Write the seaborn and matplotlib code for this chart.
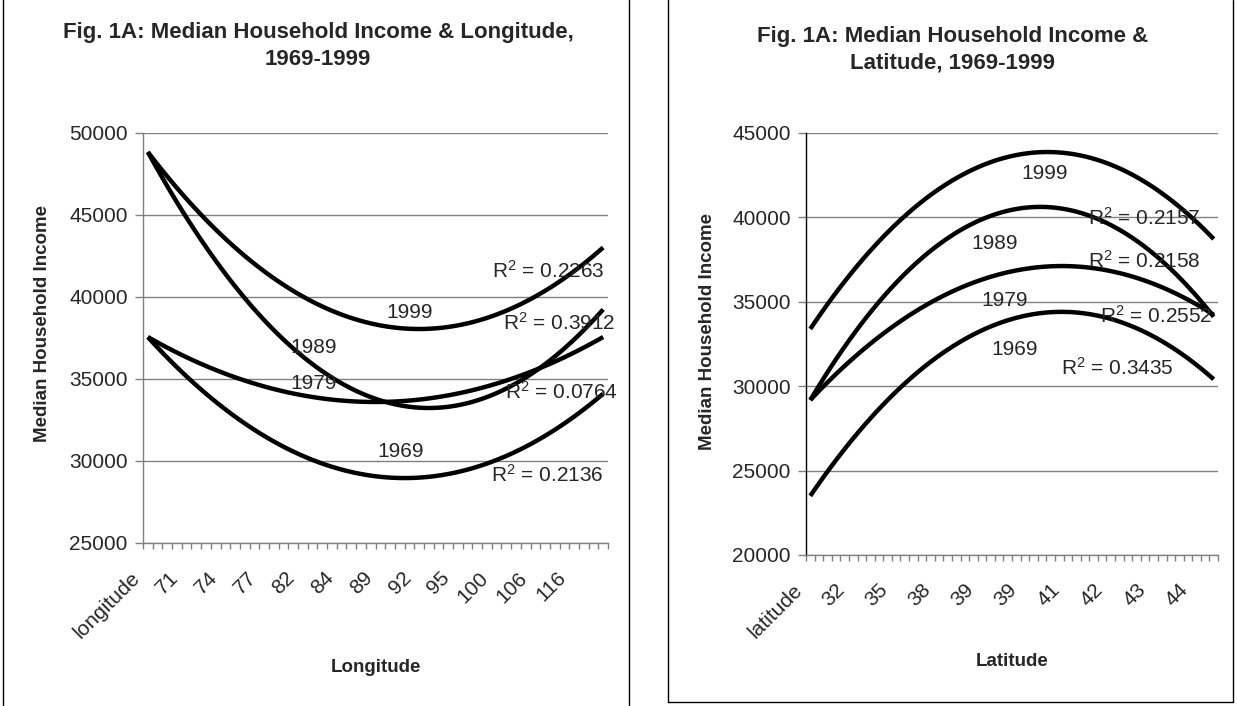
import numpy as np
import pandas as pd
import matplotlib
matplotlib.use("Agg")
import matplotlib.pyplot as plt
import matplotlib.transforms as mtransforms
from matplotlib.lines import Line2D
import seaborn as sns

# ---------------------------------------------------------------- data
N_STATES = 48                      # categories on each x axis
SAMPLE_POS = [0, 8, 16, 24, 32, 40, 47]   # category index of each reading

YEARS = ["1969", "1979", "1989", "1999"]

# quadratic trend of median household income vs. longitude rank
lon_1969 = [37560, 33140, 30310, 29040, 29330, 31190, 34100]
lon_1979 = [37560, 35320, 34000, 33600, 34120, 35550, 37560]
lon_1989 = [48840, 41420, 36370, 33690, 33400, 35480, 39240]
lon_1999 = [48840, 43550, 40030, 38270, 38270, 40030, 43020]
lon_r2 = {"1969": "0.2136", "1979": "0.0764", "1989": "0.3912", "1999": "0.2263"}
lon_tick_labels = ["longitude", "71", "74", "77", "82", "84", "89", "92",
                   "95", "100", "106", "116"]

# quadratic trend of median household income vs. latitude rank
lat_1969 = [23500, 28650, 32160, 34050, 34310, 32940, 30410]
lat_1979 = [29180, 32920, 35480, 36860, 37050, 36060, 34230]
lat_1989 = [29180, 34990, 38760, 40500, 40190, 37850, 34110]
lat_1999 = [33390, 38580, 42020, 43690, 43610, 41770, 38720]
lat_r2 = {"1969": "0.3435", "1979": "0.2552", "1989": "0.2158", "1999": "0.2157"}
lat_tick_labels = ["latitude", "32", "35", "38", "39", "39", "41", "42",
                   "43", "44"]

# ---------------------------------------------------------------- style
sns.set_style("white")
plt.rcParams["font.family"] = ["Liberation Sans", "DejaVu Sans"]
plt.rcParams["mathtext.fontset"] = "custom"
plt.rcParams["mathtext.rm"] = "Liberation Sans"
plt.rcParams["mathtext.it"] = "Liberation Sans"
plt.rcParams["mathtext.bf"] = "Liberation Sans:bold"

W, H = 1237, 706
fig = plt.figure(figsize=(W / 100, H / 100), dpi=100)
fig.patch.set_facecolor("white")

TXT = 15.0      # tick and annotation size
BOLD = 13.5     # axis titles
HEAD = 16.0     # chart titles


def px_axes(x0, y0, x1, y1):
    return fig.add_axes([x0 / W, 1 - y1 / H, (x1 - x0) / W, (y1 - y0) / H])


def draw_panel(ax, series, r2, tick_labels, label_step, ylim, xlabel, title,
               title_xy, ylabel_x, xlabel_xy, label_pos, axis_color):
    frames = []
    for yr, vals in series.items():
        frames.append(pd.DataFrame({"cat": SAMPLE_POS, "income": vals, "year": yr}))
    df = pd.concat(frames, ignore_index=True)
    for yr in YEARS:
        sub = df[df["year"] == yr]
        sns.regplot(data=sub, x="cat", y="income", order=2, ci=None,
                    scatter=False, truncate=True, ax=ax,
                    line_kws={"color": "black", "lw": 3.2,
                              "solid_capstyle": "butt"})

    ax.set_xlim(-0.5, N_STATES - 0.5)
    ax.set_ylim(*ylim)
    ax.set_yticks(np.arange(ylim[0], ylim[1] + 1, 5000))
    ax.yaxis.grid(True, color="#808080", lw=1.0)
    ax.xaxis.grid(False)
    ax.set_axisbelow(True)

    # category boundaries carry the tick marks, labels sit on category centres
    ax.set_xticks(np.arange(-0.5, N_STATES, 1.0))
    ax.set_xticklabels([])
    pos = np.arange(0, N_STATES, label_step)[:len(tick_labels)]
    ax.set_xticks(pos, minor=True)
    ax.set_xticklabels(tick_labels, minor=True, rotation=45, ha="right",
                       va="center", rotation_mode="anchor", fontsize=TXT)
    ax.tick_params(axis="x", which="major", direction="out", length=4,
                   width=1, color="#808080", bottom=True)
    ax.tick_params(axis="x", which="minor", length=0, pad=23, bottom=True)
    ax.tick_params(axis="y", direction="out", length=6, width=1,
                   color="#808080", labelsize=TXT, pad=5, left=True)
    shift = mtransforms.ScaledTranslation(-11 / 100, 0, fig.dpi_scale_trans)
    for lab in ax.get_xticklabels(minor=True):
        lab.set_transform(lab.get_transform() + shift)

    for side in ("top", "right"):
        ax.spines[side].set_visible(False)
    ax.spines["left"].set_color(axis_color)
    ax.spines["bottom"].set_color("#808080")
    for s in ("left", "bottom"):
        ax.spines[s].set_linewidth(1.0)

    ax.set_xlabel("")
    ax.set_ylabel("")
    fig.text(ylabel_x / W, 1 - label_pos["ylabel_y"] / H,
             "Median Household Income", rotation=90, ha="center",
             va="center", fontsize=BOLD, fontweight="bold")
    fig.text(xlabel_xy[0] / W, 1 - xlabel_xy[1] / H, xlabel, ha="center",
             va="center", fontsize=BOLD, fontweight="bold")
    fig.text(title_xy[0] / W, 1 - title_xy[1] / H, title, ha="center",
             va="center", fontsize=HEAD, fontweight="bold", linespacing=1.35)

    for yr in YEARS:
        fx, fy = label_pos[yr]
        ax.text(fx, fy, yr, transform=ax.transAxes, ha="center", va="center",
                fontsize=TXT, clip_on=False)
        fx, fy = label_pos["r2_" + yr]
        ax.text(fx, fy, r"R$^{\mathrm{2}}$ = " + r2[yr], transform=ax.transAxes,
                ha="center", va="center", fontsize=TXT, clip_on=False)


ax1 = px_axes(143, 133, 608, 543)
draw_panel(
    ax1,
    {"1969": lon_1969, "1979": lon_1979, "1989": lon_1989, "1999": lon_1999},
    lon_r2, lon_tick_labels, 4, (25000, 50000), "Longitude",
    "Fig. 1A: Median Household Income & Longitude,\n1969-1999",
    (318, 46), 43, (376, 667),
    {"1999": (0.574, 0.563), "1989": (0.366, 0.478),
     "1979": (0.366, 0.390), "1969": (0.553, 0.222),
     "r2_1999": (0.871, 0.663), "r2_1989": (0.895, 0.537),
     "r2_1979": (0.899, 0.368), "r2_1969": (0.869, 0.166),
     "ylabel_y": 324},
    "#808080",
)

ax2 = px_axes(806, 133, 1218, 555)
draw_panel(
    ax2,
    {"1969": lat_1969, "1979": lat_1979, "1989": lat_1989, "1999": lat_1999},
    lat_r2, lat_tick_labels, 5, (20000, 45000), "Latitude",
    "Fig. 1A: Median Household Income &\nLatitude, 1969-1999",
    (953, 50), 707, (1012, 661),
    {"1999": (0.578, 0.903), "1989": (0.459, 0.737),
     "1979": (0.483, 0.604), "1969": (0.507, 0.486),
     "r2_1999": (0.820, 0.799), "r2_1989": (0.820, 0.697),
     "r2_1979": (0.850, 0.566), "r2_1969": (0.755, 0.443),
     "ylabel_y": 331},
    "black",
)

# chart frames
for (x0, y0, x1, y1) in [(3, 0, 3, 706), (629, 0, 629, 706),
                         (668, 0, 668, 702), (1233, 0, 1233, 702),
                         (668, 702, 1233, 702)]:
    fig.add_artist(Line2D([x0 / W, x1 / W], [1 - y0 / H, 1 - y1 / H],
                          transform=fig.transFigure, color="black", lw=1.0))

fig.savefig("out.png", dpi=100)
